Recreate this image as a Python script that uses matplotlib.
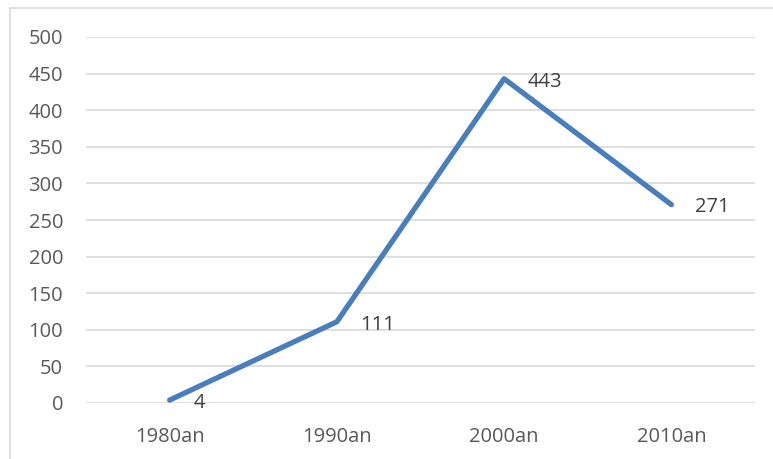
import matplotlib
matplotlib.use("Agg")
import matplotlib.pyplot as plt
from matplotlib.patches import Rectangle

categories = ["1980an", "1990an", "2000an", "2010an"]
values = [4, 111, 443, 271]
y_ticks = [0, 50, 100, 150, 200, 250, 300, 350, 400, 450, 500]

text_color = "#595959"
line_color = "#4a7ebb"
grid_color = "#d9d9d9"

plt.rcParams["font.family"] = ["Open Sans", "DejaVu Sans"]

fig = plt.figure(figsize=(7.73, 4.59), dpi=100)
W, H = 773, 459

# chart frame
fig.patches.append(Rectangle((10 / W, 0 - 0.01), 1.1, 1 - 8 / H + 0.01,
                             transform=fig.transFigure, fill=False,
                             edgecolor=grid_color, linewidth=1.2))

ax = fig.add_axes([86 / W, 1 - 403 / H, (755 - 86) / W, (403 - 37) / H])
x = list(range(len(categories)))
ax.plot(x, values, color=line_color, linewidth=3.8, solid_capstyle="round",
        solid_joinstyle="round", zorder=3)

for xi, v in zip(x, values):
    ax.annotate(str(v), (xi, v), xytext=(17, -2), textcoords="offset points",
                ha="left", va="center", fontsize=14.5, color="#404040")

ax.set_xlim(-0.5, len(categories) - 0.5)
ax.set_ylim(0, 500)
ax.set_yticks(y_ticks)
ax.set_xticks(x)
ax.set_xticklabels(categories)
ax.grid(axis="y", color=grid_color, linewidth=1.2)
ax.set_axisbelow(True)
for s in ax.spines.values():
    s.set_visible(False)
ax.tick_params(axis="both", length=0, labelsize=14.5, labelcolor=text_color)
ax.tick_params(axis="y", pad=16.5)
ax.tick_params(axis="x", pad=17)

fig.savefig("out.png", dpi=100)
